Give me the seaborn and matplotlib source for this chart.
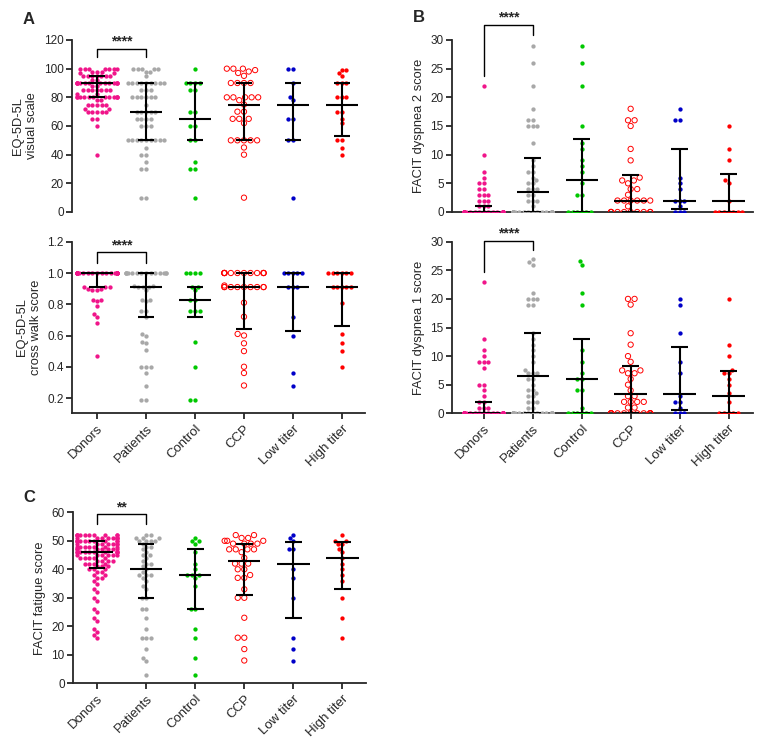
import warnings
import matplotlib
matplotlib.use("Agg")
import matplotlib.pyplot as plt
import seaborn as sns

warnings.filterwarnings("ignore")

sns.set_style("ticks")
plt.rcParams["font.family"] = ["Liberation Sans", "DejaVu Sans"]

groups = ["Donors", "Patients", "Control", "CCP", "Low titer", "High titer"]
colores = ["#F0158A", "#A8A8A8", "#00C800", "#FF0000", "#0000C8", "#FF0000"]

# A (superior) - EQ-5D-5L escala visual
vas = {
    "Donors": [100] * 7 + [98] * 3 + [97] * 2 + [95] * 7 + [92] * 2 + [90] * 14 + [88] * 2 + [85] * 7
              + [82] * 2 + [80] * 12 + [78] * 2 + [75] * 5 + [72] * 2 + [70] * 5 + [65] * 2 + [60, 40],
    "Patients": [100] * 5 + [98] * 2 + [95] + [90] * 9 + [85] * 3 + [80] * 6 + [75] + [70] * 5 + [65] * 4
                + [60] * 3 + [50] * 9 + [45] + [40] * 2 + [35] + [30] * 2 + [10] * 2,
    "Control": [100] + [90] * 4 + [85] * 2 + [70] * 2 + [60] * 2 + [50] * 2 + [35] + [30] * 2 + [10],
    "CCP": [100] * 3 + [99, 98, 97, 95] + [90] * 4 + [80] * 5 + [78, 75] + [70] * 2 + [65] * 3 + [62]
           + [50] * 5 + [45, 40, 10],
    "Low titer": [100] * 2 + [90, 80, 78] + [65] * 2 + [50] * 2 + [10],
    "High titer": [99, 99, 97, 95, 90, 90, 90, 80, 80, 80, 70, 70, 65, 62, 50, 50, 45, 40],
}
vas_med = [90, 70, 65, 75, 75, 75]
vas_q1 = [80, 50, 50, 50, 50, 53]
vas_q3 = [95, 90, 90, 90, 90, 90]

# A (inferior) - EQ-5D-5L cross walk
cw = {
    "Donors": [1.0] * 45 + [0.91] * 3 + [0.9] * 2 + [0.89] * 2 + [0.83] * 2 + [0.82, 0.79, 0.74, 0.72, 0.68, 0.47],
    "Patients": [1.0] * 14 + [0.92] * 2 + [0.91] * 3 + [0.89] + [0.83] * 2 + [0.82] + [0.76] * 2
                + [0.72, 0.61, 0.60, 0.56, 0.55, 0.51] + [0.40] * 3 + [0.36, 0.28] + [0.19] * 2,
    "Control": [1.0] * 4 + [0.91] * 2 + [0.89] + [0.83] * 2 + [0.76] * 3 + [0.56, 0.40] + [0.19] * 2,
    "CCP": [1.0] * 12 + [0.92] + [0.91] * 9 + [0.81, 0.72, 0.61, 0.60, 0.55, 0.50, 0.40, 0.36, 0.28],
    "Low titer": [1.0] * 5 + [0.91] * 3 + [0.72, 0.60, 0.36, 0.28],
    "High titer": [1.0] * 6 + [0.91] * 5 + [0.81, 0.61, 0.55, 0.50, 0.40],
}
cw_med = [1.0, 0.91, 0.83, 0.91, 0.91, 0.91]
cw_q1 = [0.91, 0.72, 0.72, 0.64, 0.63, 0.66]
cw_q3 = [1.0, 1.0, 0.91, 1.0, 1.0, 1.0]

# B (superior) - FACIT dyspnea 2
disp2 = {
    "Donors": [0] * 60 + [1] * 3 + [2] * 3 + [3] * 3 + [4] * 2 + [5] * 2 + [6, 7, 10, 22],
    "Patients": [0] * 22 + [1] + [2] * 3 + [3] * 2 + [4] * 3 + [5] * 2 + [5.5, 6] + [7] * 2 + [8, 9, 12]
                + [15] * 3 + [16] * 2 + [18, 22, 26, 29],
    "Control": [0] * 6 + [3] * 2 + [5, 7, 8, 9, 11, 12, 15, 22, 26, 29],
    "CCP": [0] * 10 + [1] + [2] * 6 + [3] + [4] * 2 + [5] + [5.5] * 2 + [6, 9, 11, 15] + [16] * 2 + [18],
    "Low titer": [0] * 3 + [1] + [2] * 3 + [4, 5, 6] + [16] * 2 + [18],
    "High titer": [0] * 7 + [2, 5, 5.5, 9, 11, 15],
}
disp2_med = [0, 3.5, 5.5, 2, 2, 2]
disp2_q1 = [0, 0, 0, 0, 0.6, 0]
disp2_q3 = [1, 9.5, 12.8, 6.5, 11, 6.7]

# B (inferior) - FACIT dyspnea 1
disp1 = {
    "Donors": [0] * 55 + [1] * 3 + [2] * 2 + [3, 4] + [5] * 2 + [8] + [9] * 3 + [10, 11, 13, 23],
    "Patients": [0] * 20 + [1] * 2 + [2] * 3 + [3] * 2 + [3.5] + [4] * 2 + [5] + [6] * 2 + [7] * 3
                + [7.5, 9, 10, 11, 12, 13, 14] + [19] * 2 + [20] * 3 + [21, 26, 26.5, 27],
    "Control": [0] * 6 + [1] + [4] * 2 + [6] * 2 + [7, 9, 11, 19, 21, 26, 26.7],
    "CCP": [0] * 13 + [1] * 2 + [2] * 4 + [3] * 2 + [4, 5, 6] + [7] * 2 + [7.5] * 2 + [9, 10, 12, 14, 19]
           + [20] * 2,
    "Low titer": [0] * 3 + [1] + [2] * 2 + [3, 7, 9, 14, 19, 20],
    "High titer": [0] * 5 + [2, 3.5, 5, 6] + [7] * 2 + [7.5, 10, 12, 20],
}
disp1_med = [0, 6.5, 6, 3.3, 3.3, 3]
disp1_q1 = [0, 0, 0, 0, 0.6, 0]
disp1_q3 = [2, 14, 13, 8.3, 11.6, 7.4]

# C - FACIT fatigue
fat = {
    "Donors": [52] * 10 + [51] * 8 + [50] * 10 + [49] * 7 + [48] * 7 + [47] * 7 + [46] * 10 + [45] * 6
              + [44] * 5 + [43] * 4 + [42] * 4 + [41] * 3 + [40] * 3 + [39] * 2 + [38] * 2 + [37] * 2
              + [36, 35, 33, 32, 30, 29, 26, 25, 23, 22, 19, 18, 17, 16],
    "Patients": [52] * 2 + [51] * 3 + [50] * 4 + [49] + [48] * 2 + [47, 46] + [45] * 2 + [44, 43]
                + [42] * 2 + [41, 40, 39] + [38] * 3 + [37, 36, 34, 33] + [30] * 2 + [26] * 2 + [23, 19]
                + [16] * 3 + [12, 9, 8, 3],
    "Control": [51] + [50] * 2 + [49, 46, 42, 40] + [38] * 3 + [37, 34] + [26] * 2 + [19, 16, 9, 3],
    "CCP": [52] * 2 + [51] * 2 + [50] * 3 + [49] * 4 + [47] * 4 + [46, 44] + [42] * 3 + [40] * 2 + [38]
           + [37] * 2 + [33] + [30] * 2 + [23] + [16] * 2 + [12, 8],
    "Low titer": [52, 51, 50, 47, 47, 40, 37, 30, 16, 12, 8],
    "High titer": [52, 50, 50, 49, 49, 47, 46, 44, 42, 40, 38, 36, 30, 23, 16],
}
fat_med = [46, 40, 38, 43, 42, 44]
fat_q1 = [40.5, 30, 26, 31, 23, 33]
fat_q3 = [50, 49, 47, 49, 49.5, 49.5]

W, H = 773, 755
fig = plt.figure(figsize=(W / 100, H / 100), dpi=100)


def eixo(x0, y0, x1, y1):
    return fig.add_axes([x0 / W, 1 - y1 / H, (x1 - x0) / W, (y1 - y0) / H])


def painel(ax, dados, med, q1, q3, ylim, yticks, xlim, ylabel, fmt="{:g}", eixo_x=True, rotulos=True):
    for i, g in enumerate(groups):
        vals = dados[g]
        n_antes = len(ax.collections)
        if g == "CCP":
            sns.swarmplot(x=[g] * len(vals), y=vals, order=groups, color=colores[i],
                          size=3.8, linewidth=0.7, ax=ax)
            for pts in ax.collections[n_antes:]:
                pts.set_facecolors("none")
                pts.set_edgecolors(colores[i])
        else:
            sns.swarmplot(x=[g] * len(vals), y=vals, order=groups, color=colores[i],
                          size=3.1, linewidth=0, ax=ax)
    x = range(len(groups))
    ax.hlines(med, [i - 0.33 for i in x], [i + 0.33 for i in x], color="black", lw=1.5, zorder=5)
    ax.hlines(q1, [i - 0.17 for i in x], [i + 0.17 for i in x], color="black", lw=1.5, zorder=5)
    ax.hlines(q3, [i - 0.17 for i in x], [i + 0.17 for i in x], color="black", lw=1.5, zorder=5)
    ax.vlines(list(x), q1, q3, color="black", lw=1.5, zorder=5)

    ax.set_xlim(xlim)
    ax.set_ylim(ylim)
    ax.set_yticks(yticks)
    ax.set_yticklabels([fmt.format(t) for t in yticks], fontsize=8.5)
    ax.set_ylabel(ylabel, fontsize=9.3, labelpad=4)
    ax.set_xlabel("")
    for s in ["top", "right"]:
        ax.spines[s].set_visible(False)
    ax.spines["left"].set_linewidth(1.3)
    ax.spines["bottom"].set_linewidth(1.3)
    ax.spines["bottom"].set_visible(eixo_x)
    ax.tick_params(axis="y", length=4, width=1.3, pad=2)
    if rotulos:
        ax.set_xticks(list(x))
        ax.set_xticklabels(groups, rotation=45, ha="right", rotation_mode="anchor", fontsize=9.5)
        ax.tick_params(axis="x", length=4, width=1.3, pad=3)
    else:
        ax.set_xticks([])
    ax.patch.set_alpha(0)


def chave(ax, y_topo, y_esq, y_dir, texto):
    ax.plot([0, 0, 1, 1], [y_esq, y_topo, y_topo, y_dir], color="black", lw=1.0, clip_on=False)
    ax.text(0.5, y_topo, texto, ha="center", va="bottom", fontsize=10, fontweight="bold", clip_on=False)


ax1 = eixo(72, 40, 365, 212)
painel(ax1, vas, vas_med, vas_q1, vas_q3, (0, 120), [0, 20, 40, 60, 80, 100, 120], (-0.51, 5.47),
       "EQ-5D-5L\nvisual scale", eixo_x=False, rotulos=False)
chave(ax1, 114, 108, 108, "****")

ax2 = eixo(72, 241.75, 365, 413)
painel(ax2, cw, cw_med, cw_q1, cw_q3, (0.104, 1.2), [0.2, 0.4, 0.6, 0.8, 1.0, 1.2], (-0.51, 5.47),
       "EQ-5D-5L\ncross walk score", fmt="{:.1f}")
chave(ax2, 1.132, 1.066, 1.066, "****")

ax3 = eixo(452, 40, 753, 212)
painel(ax3, disp2, disp2_med, disp2_q1, disp2_q3, (0, 30), [0, 5, 10, 15, 20, 25, 30], (-0.65, 5.5),
       "FACIT dyspnea 2 score", rotulos=False)
chave(ax3, 32.7, 23.7, 30.9, "****")

ax4 = eixo(452, 241.7, 753, 413.3)
painel(ax4, disp1, disp1_med, disp1_q1, disp1_q3, (0, 30), [0, 5, 10, 15, 20, 25, 30], (-0.65, 5.5),
       "FACIT dyspnea 1 score")
chave(ax4, 30.2, 24.7, 28.5, "****")

ax5 = eixo(73, 512.3, 366, 683.3)
painel(ax5, fat, fat_med, fat_q1, fat_q3, (0, 60), [0, 10, 20, 30, 40, 50, 60], (-0.49, 5.48),
       "FACIT fatigue score")
chave(ax5, 59.4, 55.8, 55.8, "**")

fig.text(23 / W, 1 - 20 / H, "A", fontsize=12, fontweight="bold", va="center")
fig.text(413 / W, 1 - 18 / H, "B", fontsize=12, fontweight="bold", va="center")
fig.text(23 / W, 1 - 498 / H, "C", fontsize=12, fontweight="bold", va="center")

fig.savefig("out.png", dpi=100)
